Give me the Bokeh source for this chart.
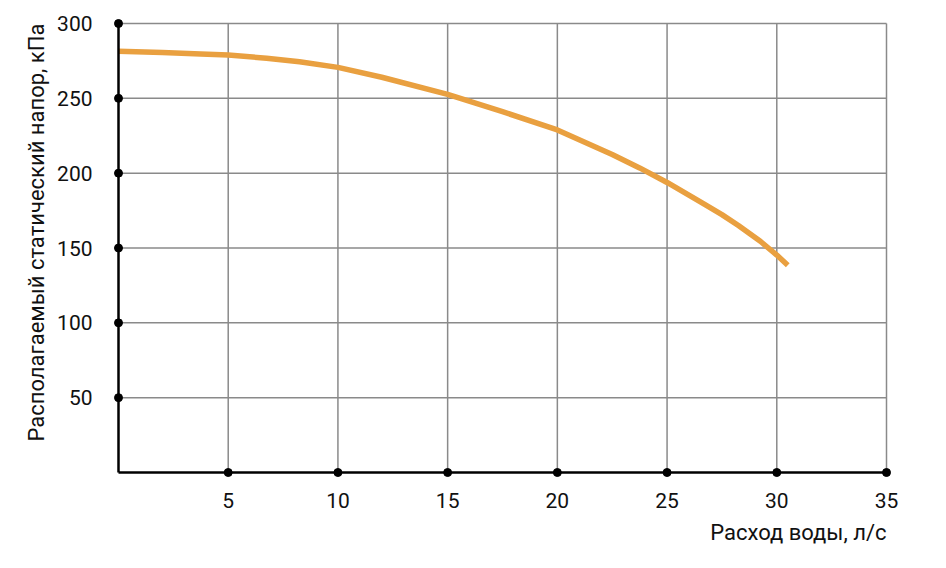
from bokeh.plotting import figure
from bokeh.models import Range1d, FixedTicker, Title
from bokeh.embed import file_html
from bokeh.resources import INLINE

# ---- data ----
flow = [0, 2, 3.75, 5, 6.75, 8.25, 10, 12, 15, 17.5, 20, 22.5, 23.75, 25, 26.5,
        27.5, 28.25, 29.25, 30, 30.5]
pressure = [281.5, 280.6, 279.6, 278.9, 276.8, 274.4, 270.7, 264.1, 252.6, 241.1,
            228.9, 212.5, 203.5, 193.8, 181.0, 172.3, 165.0, 154.5, 145.3, 138.5]
x_ticks = [5, 10, 15, 20, 25, 30, 35]
y_ticks = [50, 100, 150, 200, 250, 300]
X_MAX = 35
Y_MAX = 300
x_title = "Расход воды, л/с"
y_title = "Располагаемый статический напор, кПа"

FONT = "Roboto"
ORANGE = "#E9A040"
GRID = "#8a8a8a"
TEXT = "#111111"

# pixel padding so that the end dots are not clipped
PAD_PX = 8
FRAME_W = 768
FRAME_H = 449
xpad = PAD_PX * X_MAX / FRAME_W
ypad = PAD_PX * Y_MAX / FRAME_H

p = figure(frame_width=FRAME_W + 2 * PAD_PX, frame_height=FRAME_H + 2 * PAD_PX,
           x_range=Range1d(-xpad, X_MAX + xpad), y_range=Range1d(-ypad, Y_MAX + ypad),
           output_backend="svg", toolbar_location=None,
           min_border_left=110, min_border_top=15, min_border_right=44, min_border_bottom=80)
p.outline_line_color = None
p.background_fill_color = "white"
p.border_fill_color = "white"
p.xgrid.visible = False
p.ygrid.visible = False

for ax, ticks in ((p.xaxis, x_ticks), (p.yaxis, y_ticks)):
    ax.ticker = FixedTicker(ticks=ticks)
    ax.axis_line_color = None
    ax.major_tick_line_color = None
    ax.minor_tick_line_color = None
    ax.major_label_text_font = FONT
    ax.major_label_text_font_size = "21px"
    ax.major_label_text_color = TEXT

p.xaxis.major_label_standoff = 6
p.yaxis.major_label_standoff = 12

p.add_layout(Title(text=y_title, align="left", text_font=FONT, text_font_size="22px",
                   text_font_style="normal", text_color=TEXT, offset=39, standoff=12), "left")
p.add_layout(Title(text=x_title, align="right", text_font=FONT, text_font_size="22px",
                   text_font_style="normal", text_color=TEXT, offset=8, standoff=15), "below")

# grid
p.segment(x0=x_ticks, y0=[0] * len(x_ticks), x1=x_ticks, y1=[Y_MAX] * len(x_ticks),
          line_color=GRID, line_width=1.5)
p.segment(x0=[0] * len(y_ticks), y0=y_ticks, x1=[X_MAX] * len(y_ticks), y1=y_ticks,
          line_color=GRID, line_width=1.5)

# curve
p.line(flow, pressure, line_color=ORANGE, line_width=5.5, line_join="round", line_cap="butt")

# axis lines
p.segment(x0=[0, 0], y0=[0, 0], x1=[X_MAX, 0], y1=[0, Y_MAX], line_color="black", line_width=2.5)

# tick dots
p.scatter(x_ticks, [0] * len(x_ticks), size=8, color="black")
p.scatter([0] * len(y_ticks), y_ticks, size=8, color="black")

open("out.html", "w").write(file_html(p, INLINE))
